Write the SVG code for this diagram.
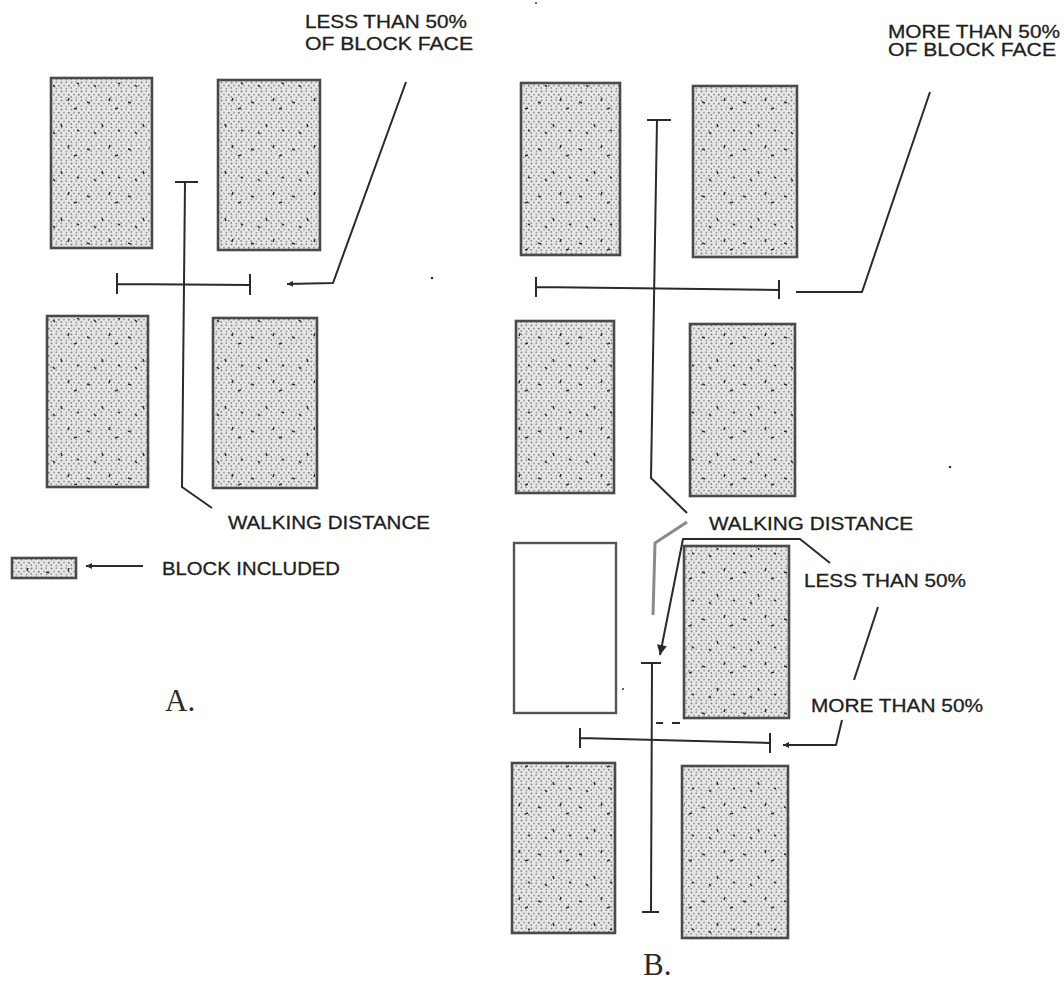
<svg xmlns="http://www.w3.org/2000/svg" width="1064" height="983" viewBox="0 0 1064 983">
<style>
.blk{fill:url(#stip);stroke:#4a4a4a;stroke-width:2.6}
.fl{fill:url(#fleck);stroke:none}
.empty{fill:#ffffff;stroke:#555;stroke-width:2.4}
.ln{fill:none;stroke:#2a2a2a;stroke-width:2;stroke-linejoin:round}
.gl{fill:none;stroke:#8a8a8a;stroke-width:3}
.lbl{font-family:"Liberation Sans",Arial,sans-serif;font-size:18px;fill:#1e1e1e;stroke:#1e1e1e;stroke-width:0.3}
.big{font-family:"Liberation Serif","Times New Roman",serif;font-size:31px;fill:#2a2a2a}
.speck{fill:#333}
</style>
<defs>
<pattern id="stip" width="10" height="9" patternUnits="userSpaceOnUse">
<rect width="10" height="9" fill="#e6e6e6"/>
<circle cx="1.5" cy="1.5" r="1" fill="#858585"/>
<circle cx="6.2" cy="1.2" r="0.9" fill="#949494"/>
<circle cx="8.8" cy="4.8" r="1" fill="#808080"/>
<circle cx="4" cy="4.5" r="0.9" fill="#9a9a9a"/>
<circle cx="1.2" cy="7" r="0.9" fill="#8e8e8e"/>
<circle cx="6.5" cy="7.6" r="0.9" fill="#999"/>
</pattern>
<pattern id="fleck" width="41" height="47" patternUnits="userSpaceOnUse">
<path d="M5 8 l3 1 M20 30 l1 3 M33 15 l3 -1 M12 38 l2 2 M28 4 l-1 3 M36 36 l2 1" stroke="#2e2e2e" stroke-width="1.5" fill="none"/>
</pattern>
<marker id="ah" viewBox="0 0 10 10" refX="10" refY="5" markerWidth="9" markerHeight="6" markerUnits="userSpaceOnUse" orient="auto">
<path d="M0,0 L10,5 L0,10 z" fill="#2a2a2a"/>
</marker>
<marker id="ahb" viewBox="0 0 10 10" refX="10" refY="5" markerWidth="16" markerHeight="10" markerUnits="userSpaceOnUse" orient="auto">
<path d="M0,0 L10,5 L0,10 z" fill="#2a2a2a"/>
</marker>
</defs>
<rect width="1064" height="983" fill="#ffffff"/>

<!-- Diagram A blocks -->
<g id="a-block-tl"><rect class="blk" x="51" y="78" width="101" height="170"/><rect class="fl" x="53" y="80" width="97" height="166"/></g>
<g id="a-block-tr"><rect class="blk" x="218" y="80" width="102" height="170"/><rect class="fl" x="220" y="82" width="98" height="166"/></g>
<g id="a-block-bl"><rect class="blk" x="47" y="316" width="101" height="171"/><rect class="fl" x="49" y="318" width="97" height="167"/></g>
<g id="a-block-br"><rect class="blk" x="213" y="318" width="104" height="170"/><rect class="fl" x="215" y="320" width="100" height="166"/></g>

<!-- Diagram B blocks -->
<g id="b-block-1l"><rect class="blk" x="521" y="83" width="99" height="172"/><rect class="fl" x="523" y="85" width="95" height="168"/></g>
<g id="b-block-1r"><rect class="blk" x="693" y="86" width="104" height="171"/><rect class="fl" x="695" y="88" width="100" height="167"/></g>
<g id="b-block-2l"><rect class="blk" x="516" y="321" width="98" height="172"/><rect class="fl" x="518" y="323" width="94" height="168"/></g>
<g id="b-block-2r"><rect class="blk" x="690" y="324" width="105" height="172"/><rect class="fl" x="692" y="326" width="101" height="168"/></g>
<g id="b-block-3l"><rect class="empty" x="514" y="543" width="102" height="170"/></g>
<g id="b-block-3r"><rect class="blk" x="684" y="546" width="105" height="172"/><rect class="fl" x="686" y="548" width="101" height="168"/></g>
<g id="b-block-4l"><rect class="blk" x="512" y="763" width="103" height="170"/><rect class="fl" x="514" y="765" width="99" height="166"/></g>
<g id="b-block-4r"><rect class="blk" x="682" y="766" width="106" height="172"/><rect class="fl" x="684" y="768" width="102" height="168"/></g>

<!-- Legend -->
<g id="legend-swatch"><rect class="blk" x="12" y="558" width="64" height="20" stroke-width="2"/><rect class="fl" x="13" y="559" width="62" height="18"/></g>

<!-- Connectors -->
<g id="connectors">
<path class="ln" d="M175,182 H198"/>
<path class="ln" d="M185,182 L182,487 L212,508"/>
<path class="ln" d="M117,284 L250,285 M117,273 V294 M250,274 V295"/>
<path class="ln" d="M406,82 L333,283 L287,284" marker-end="url(#ah)"/>
<path class="ln" d="M143,566 L86,566" stroke-width="1.6" marker-end="url(#ah)"/>
<path class="ln" d="M647,120 H671"/>
<path class="ln" d="M657,120 L651,478 L687,513"/>
<path class="ln" d="M536,287 L779,290 M536,277 V297 M779,280 V299"/>
<path class="ln" d="M930,92 L862,292 L796,292"/>
<path class="gl" d="M687,522 L655,543 L653,615"/>
<path class="ln" d="M830,563 L800,539 L683,539 L660,655" marker-end="url(#ahb)"/>
<path class="ln" d="M641,663 H661"/>
<path class="ln" d="M652,663 L651,912 M642,912 H659"/>
<path class="ln" d="M580,738 L770,743 M580,728 V748 M770,733 V753"/>
<path class="ln" d="M656,723 H663 M672,723 H680" stroke-width="1.4"/>
<path class="ln" d="M878,607 L854,680"/>
<path class="ln" d="M842,720 L836,745 L783,745" marker-end="url(#ah)"/>
</g>

<!-- Labels -->
<g id="label-a-less"><text class="lbl" x="305" y="28" textLength="162" lengthAdjust="spacingAndGlyphs">LESS THAN 50%</text><text class="lbl" x="305" y="50" textLength="168" lengthAdjust="spacingAndGlyphs">OF BLOCK FACE</text></g>
<g id="label-b-more"><text class="lbl" x="888" y="38" textLength="172" lengthAdjust="spacingAndGlyphs">MORE THAN 50%</text><text class="lbl" x="888" y="56" textLength="168" lengthAdjust="spacingAndGlyphs">OF BLOCK FACE</text></g>
<g id="label-a-walk"><text class="lbl" x="228" y="529" textLength="202" lengthAdjust="spacingAndGlyphs">WALKING DISTANCE</text></g>
<g id="label-b-walk"><text class="lbl" x="709" y="530" textLength="204" lengthAdjust="spacingAndGlyphs">WALKING DISTANCE</text></g>
<g id="label-legend"><text class="lbl" x="162" y="575" textLength="178" lengthAdjust="spacingAndGlyphs">BLOCK INCLUDED</text></g>
<g id="label-b-less"><text class="lbl" x="804" y="587" textLength="162" lengthAdjust="spacingAndGlyphs">LESS THAN 50%</text></g>
<g id="label-b-more2"><text class="lbl" x="811" y="712" textLength="172" lengthAdjust="spacingAndGlyphs">MORE THAN 50%</text></g>
<g id="label-A"><text class="big" x="165" y="711">A.</text></g>
<g id="label-B"><text class="big" x="643" y="975">B.</text></g>

<!-- specks -->
<circle class="speck" cx="432" cy="278" r="1.3"/>
<circle class="speck" cx="536" cy="3" r="1"/>
<circle class="speck" cx="950" cy="467" r="1.3"/>
<circle class="speck" cx="623" cy="689" r="1"/>
</svg>
